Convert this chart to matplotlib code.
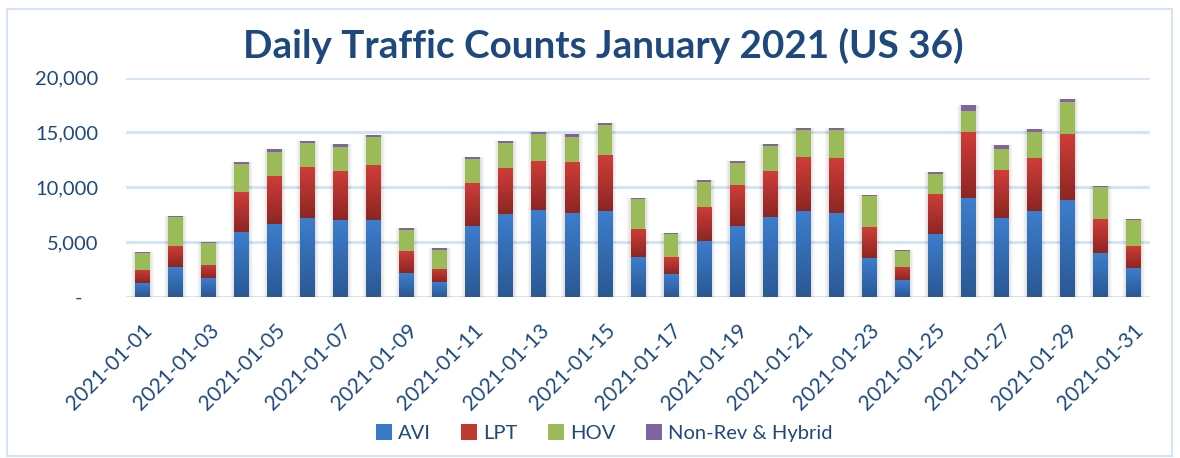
import numpy as np
import matplotlib
matplotlib.use("Agg")
import matplotlib.pyplot as plt
from matplotlib.patches import Rectangle, Patch
from matplotlib.colors import LinearSegmentedColormap

dates = [f"2021-01-{d:02d}" for d in range(1, 32)]
avi = [1250, 2710, 1700, 5900, 6640, 7180, 7000, 7000, 2160, 1340,
       6450, 7550, 7910, 7640, 7820, 3620, 2070, 5080, 6450, 7280,
       7820, 7640, 3530, 1520, 5720, 9010, 7180, 7820, 8830, 3990, 2620]
lpt = [1190, 1920, 1190, 3650, 4380, 4660, 4480, 5020, 2010, 1190,
       3930, 4200, 4480, 4660, 5110, 2560, 1550, 3110, 3740, 4200,
       4930, 5020, 2830, 1190, 3650, 6030, 4380, 4840, 6030, 3100, 2010]
hov = [1580, 2650, 2010, 2560, 2190, 2190, 2190, 2560, 1920, 1730,
       2190, 2280, 2470, 2280, 2740, 2740, 2100, 2280, 2010, 2280,
       2470, 2560, 2830, 1460, 1830, 1920, 1920, 2370, 2920, 2920, 2370]
nonrev = [60, 90, 90, 180, 270, 180, 270, 180, 180, 180,
          180, 180, 180, 270, 180, 90, 90, 180, 180, 180,
          180, 180, 90, 90, 180, 550, 370, 270, 270, 90, 90]
series_names = ["AVI", "LPT", "HOV", "Non-Rev & Hybrid"]
y_ticks = [0, 5000, 10000, 15000, 20000]
y_labels = ["-   ", "5,000", "10,000", "15,000", "20,000"]
title = "Daily Traffic Counts January 2021 (US 36)"

plt.rcParams['font.family'] = ['Lato', 'DejaVu Sans']
text_col = "#1F497D"

fig = plt.figure(figsize=(11.8, 4.58), dpi=100)
ax = fig.add_axes([126/1180, 1-296.7/458, 1024/1180, 219/458])

x = np.arange(len(dates))
w = 0.45
a = np.array(avi); l = np.array(lpt); h = np.array(hov); n = np.array(nonrev)
bot_l = a
bot_h = a + l
bot_n = a + l + h
tot = bot_n + n

# soft shadows
for k in range(6):
    ax.bar(x, tot, width=w + 0.04 * (k + 1), bottom=0, color="#000000",
           alpha=0.018, zorder=1, linewidth=0)

blue_cmap = LinearSegmentedColormap.from_list("b", ["#2A5893", "#3C7ECE"])
red_cmap = LinearSegmentedColormap.from_list("r", ["#8C2622", "#D03D39"])

b1 = ax.bar(x, a, width=w, color="#3A7BC8", zorder=2, linewidth=0)
b2 = ax.bar(x, l, width=w, bottom=bot_l, color="#C0392F", zorder=2, linewidth=0)
b3 = ax.bar(x, h, width=w, bottom=bot_h, color="#9BBB59", zorder=2, linewidth=0)
b4 = ax.bar(x, n, width=w, bottom=bot_n, color="#8064A2", zorder=2, linewidth=0)

grad = np.linspace(0, 1, 256).reshape(-1, 1)
for bars, cmap in ((b1, blue_cmap), (b2, red_cmap)):
    for p in bars:
        x0, y0 = p.get_x(), p.get_y()
        x1, y1 = x0 + p.get_width(), y0 + p.get_height()
        im = ax.imshow(grad, cmap=cmap, extent=(x0, x1, y0, y1), origin="lower",
                       aspect="auto", zorder=2.5, interpolation="bilinear")
        im.set_clip_path(p)

ax.set_xlim(-0.5, len(dates) - 0.5)
ax.set_ylim(0, 20000)
ax.set_aspect("auto")
ax.set_yticks(y_ticks)
ax.set_yticklabels(y_labels)
ax.yaxis.grid(True, color="#D6E3F3", linewidth=2.2, zorder=0)
ax.set_axisbelow(True)
for s in ax.spines.values():
    s.set_visible(False)
ax.tick_params(axis="y", length=0, pad=20, labelsize=14.5, labelcolor=text_col)
ax.set_xticks(x[::2])
ax.set_xticklabels(dates[::2], rotation=45, ha="right", rotation_mode="anchor")
ax.tick_params(axis="x", length=0, pad=17, labelsize=15, labelcolor=text_col)

fig.text(603/1180, 1 - 46/458, title, ha="center", va="center", fontsize=27.8,
         fontweight="bold", color=text_col)

handles = [Patch(facecolor=c) for c in ("#3A7BC8", "#C0392F", "#9BBB59", "#8064A2")]
fig.legend(handles, series_names, loc="center", bbox_to_anchor=(604/1180, 1 - 433/458),
           ncol=4, frameon=False, fontsize=14.5, labelcolor=text_col,
           handlelength=0.8, handleheight=0.8, handletextpad=0.3, columnspacing=1.5)

fig.add_artist(Rectangle((7/1180, 2/458), 1165/1180, 447/458, transform=fig.transFigure,
                         fill=False, edgecolor="#D6E3F3", linewidth=1.5))

fig.savefig("out.png", dpi=100)
